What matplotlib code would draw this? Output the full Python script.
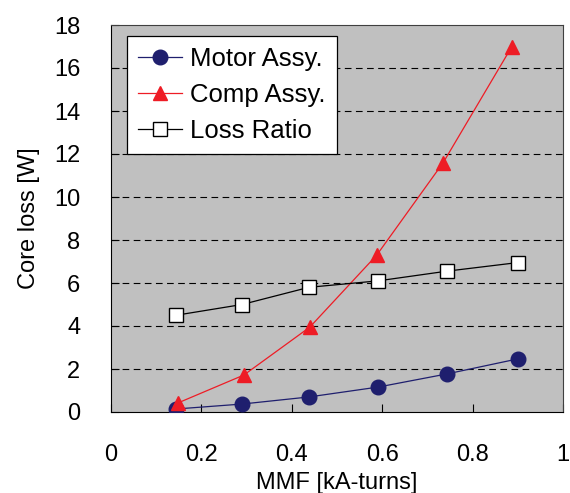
import matplotlib
matplotlib.use("Agg")
import matplotlib.pyplot as plt
from matplotlib.ticker import FuncFormatter

plt.rcParams['font.family'] = ['Liberation Sans', 'DejaVu Sans']

# data
mmf = [0.144, 0.290, 0.438, 0.591, 0.743, 0.900]
motor = [0.14, 0.37, 0.70, 1.16, 1.77, 2.47]
comp_mmf = [0.148, 0.294, 0.440, 0.588, 0.735, 0.887]
comp = [0.42, 1.72, 3.95, 7.3, 11.6, 17.0]
ratio = [4.5, 5.0, 5.8, 6.1, 6.55, 6.95]

fig = plt.figure(figsize=(5.7, 4.93), dpi=100)
ax = fig.add_axes([111 / 570, 1 - 412 / 493, 452 / 570, 387 / 493])
ax.set_facecolor('#c0c0c0')

ax.plot(mmf, motor, '-o', color='#1f1f6e', lw=0.9, ms=10.5, label='Motor Assy.', zorder=3)
ax.plot(comp_mmf, comp, '-^', color='#ee1c25', lw=0.9, ms=10.5, label='Comp Assy.', zorder=3)
ax.plot(mmf, ratio, '-s', color='black', mfc='white', mec='black', lw=0.9, ms=10,
        label='Loss Ratio', zorder=3)

ax.set_xlim(0, 1)
ax.set_ylim(0, 18)
ax.set_xticks([0, 0.2, 0.4, 0.6, 0.8, 1.0])
ax.set_yticks(range(0, 19, 2))
ax.xaxis.set_major_formatter(FuncFormatter(lambda v, p: '%g' % v))
ax.tick_params(direction='in', length=6, width=0.8, labelsize=17)
ax.tick_params(axis='y', pad=22)
ax.tick_params(axis='x', pad=23)

for y in range(2, 18, 2):
    ax.axhline(y, color='black', lw=0.8, ls=(0, (6, 4)), zorder=1)

for s in ax.spines.values():
    s.set_color('#404040')
    s.set_linewidth(0.8)
ax.spines['left'].set_color('black')
ax.spines['bottom'].set_color('black')

ax.set_xlabel('MMF [kA-turns]', fontsize=17, labelpad=4.5)
ax.set_ylabel('Core loss [W]', fontsize=17, labelpad=10)

leg = ax.legend(loc='upper left', bbox_to_anchor=(0.035, 0.972), fontsize=18.5,
                fancybox=False, framealpha=1, edgecolor='black', borderpad=0.45,
                handlelength=1.7, handletextpad=0.3, labelspacing=0.45, borderaxespad=0)
leg.get_frame().set_linewidth(0.9)

fig.savefig('out.png', dpi=100)
